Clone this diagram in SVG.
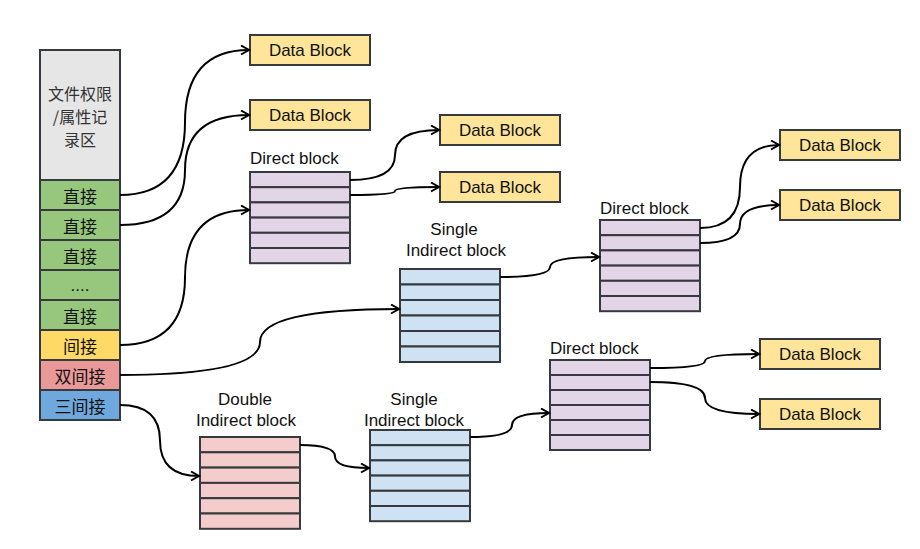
<svg xmlns="http://www.w3.org/2000/svg" width="920" height="549" viewBox="0 0 920 549">
<style>
  .cell{stroke:#36393d;stroke-width:2}
  .gray{fill:#e6e6e6}
  .green{fill:#97c77d}
  .yellow{fill:#ffd966}
  .red{fill:#ea9999}
  .blue{fill:#6fa8dc}
  .purple{fill:#e1d5e7}
  .lblue{fill:#cfe2f3}
  .pink{fill:#f4cccc}
  .data{fill:#ffe599;stroke:#36393d;stroke-width:2}
  .t{font-family:"Liberation Sans","Noto Sans CJK SC",sans-serif;font-size:17px;fill:#111;text-anchor:middle;dominant-baseline:central}
  .cn{font-family:"Noto Sans CJK SC","Liberation Sans",sans-serif;font-size:17px;fill:#111;text-anchor:middle;dominant-baseline:central}
  .gcn{font-family:"Noto Sans CJK SC","Liberation Sans",sans-serif;font-size:16px;fill:#333;text-anchor:middle;dominant-baseline:central}
  .lbl{font-family:"Liberation Sans",sans-serif;font-size:17px;fill:#111;dominant-baseline:central}
  .edge{fill:none;stroke:#000;stroke-width:2;marker-end:url(#arr)}
</style>
<defs>
  <marker id="arr" markerUnits="userSpaceOnUse" markerWidth="12" markerHeight="12" refX="9" refY="5" orient="auto">
    <path d="M1,0.5 L9,5 L1,9.5" fill="none" stroke="#000" stroke-width="2"/>
  </marker>
</defs>
<rect width="920" height="549" fill="#fff"/>

<g id="inode">
  <rect class="cell gray" x="40" y="50" width="80" height="130"/>
  <text class="gcn" x="80" y="93">文件权限</text>
  <text class="gcn" x="80" y="116">/属性记</text>
  <text class="gcn" x="80" y="139">录区</text>
  <rect class="cell green" x="40" y="180" width="80" height="30"/>
  <text class="cn" x="80" y="195">直接</text>
  <rect class="cell green" x="40" y="210" width="80" height="30"/>
  <text class="cn" x="80" y="225">直接</text>
  <rect class="cell green" x="40" y="240" width="80" height="30"/>
  <text class="cn" x="80" y="255">直接</text>
  <rect class="cell green" x="40" y="270" width="80" height="30"/>
  <text class="t" x="80" y="285">....</text>
  <rect class="cell green" x="40" y="300" width="80" height="30"/>
  <text class="cn" x="80" y="315">直接</text>
  <rect class="cell yellow" x="40" y="330" width="80" height="30"/>
  <text class="cn" x="80" y="345">间接</text>
  <rect class="cell red" x="40" y="360" width="80" height="30"/>
  <text class="cn" x="80" y="375">双间接</text>
  <rect class="cell blue" x="40" y="390" width="80" height="30"/>
  <text class="cn" x="80" y="405">三间接</text>
</g>

<g id="data1"><rect class="data" x="250" y="35" width="120" height="30"/><text class="t" x="310" y="50">Data Block</text></g>
<g id="data2"><rect class="data" x="250" y="100" width="120" height="30"/><text class="t" x="310" y="115">Data Block</text></g>
<g id="data3"><rect class="data" x="440" y="115" width="120" height="30"/><text class="t" x="500" y="130">Data Block</text></g>
<g id="data4"><rect class="data" x="440" y="172" width="120" height="30"/><text class="t" x="500" y="187">Data Block</text></g>
<g id="data5"><rect class="data" x="780" y="130" width="120" height="30"/><text class="t" x="840" y="145">Data Block</text></g>
<g id="data6"><rect class="data" x="780" y="190" width="120" height="30"/><text class="t" x="840" y="205">Data Block</text></g>
<g id="data7"><rect class="data" x="760" y="339" width="120" height="30"/><text class="t" x="820" y="354">Data Block</text></g>
<g id="data8"><rect class="data" x="760" y="399" width="120" height="30"/><text class="t" x="820" y="414">Data Block</text></g>

<g id="direct1">
  <text class="lbl" x="250" y="158">Direct block</text>
  <rect class="cell purple" x="250" y="172" width="100" height="15.2"/>
  <rect class="cell purple" x="250" y="187.2" width="100" height="15.2"/>
  <rect class="cell purple" x="250" y="202.4" width="100" height="15.2"/>
  <rect class="cell purple" x="250" y="217.6" width="100" height="15.2"/>
  <rect class="cell purple" x="250" y="232.8" width="100" height="15.2"/>
  <rect class="cell purple" x="250" y="248" width="100" height="15.2"/>
</g>

<g id="single1">
  <text class="t" x="454" y="229">Single</text>
  <text class="t" x="456" y="250">Indirect block</text>
  <rect class="cell lblue" x="400" y="269" width="100" height="15.5"/>
  <rect class="cell lblue" x="400" y="284.5" width="100" height="15.5"/>
  <rect class="cell lblue" x="400" y="300" width="100" height="15.5"/>
  <rect class="cell lblue" x="400" y="315.5" width="100" height="15.5"/>
  <rect class="cell lblue" x="400" y="331" width="100" height="15.5"/>
  <rect class="cell lblue" x="400" y="346.5" width="100" height="15.5"/>
</g>

<g id="direct2">
  <text class="lbl" x="600" y="208">Direct block</text>
  <rect class="cell purple" x="600" y="220" width="100" height="15.2"/>
  <rect class="cell purple" x="600" y="235.2" width="100" height="15.2"/>
  <rect class="cell purple" x="600" y="250.4" width="100" height="15.2"/>
  <rect class="cell purple" x="600" y="265.6" width="100" height="15.2"/>
  <rect class="cell purple" x="600" y="280.8" width="100" height="15.2"/>
  <rect class="cell purple" x="600" y="296" width="100" height="15.2"/>
</g>

<g id="double1">
  <text class="t" x="245" y="399">Double</text>
  <text class="t" x="246" y="420">Indirect block</text>
  <rect class="cell pink" x="200" y="437" width="100" height="15.3"/>
  <rect class="cell pink" x="200" y="452.3" width="100" height="15.3"/>
  <rect class="cell pink" x="200" y="467.6" width="100" height="15.3"/>
  <rect class="cell pink" x="200" y="482.9" width="100" height="15.3"/>
  <rect class="cell pink" x="200" y="498.2" width="100" height="15.3"/>
  <rect class="cell pink" x="200" y="513.5" width="100" height="15.3"/>
</g>

<g id="single2">
  <text class="t" x="414" y="399">Single</text>
  <text class="t" x="414" y="420">Indirect block</text>
  <rect class="cell lblue" x="370" y="430" width="100" height="15.2"/>
  <rect class="cell lblue" x="370" y="445.2" width="100" height="15.2"/>
  <rect class="cell lblue" x="370" y="460.4" width="100" height="15.2"/>
  <rect class="cell lblue" x="370" y="475.6" width="100" height="15.2"/>
  <rect class="cell lblue" x="370" y="490.8" width="100" height="15.2"/>
  <rect class="cell lblue" x="370" y="506" width="100" height="15.2"/>
</g>

<g id="direct3">
  <text class="lbl" x="550" y="348">Direct block</text>
  <rect class="cell purple" x="550" y="360" width="100" height="15"/>
  <rect class="cell purple" x="550" y="375" width="100" height="15"/>
  <rect class="cell purple" x="550" y="390" width="100" height="15"/>
  <rect class="cell purple" x="550" y="405" width="100" height="15"/>
  <rect class="cell purple" x="550" y="420" width="100" height="15"/>
  <rect class="cell purple" x="550" y="435" width="100" height="15"/>
</g>

<g id="connectors">
  <path class="edge" d="M120,195 Q185,195 185,122.5 Q185,50 249,50"/>
  <path class="edge" d="M120,225 Q185,225 185,170 Q185,115 249,115"/>
  <path class="edge" d="M120,345 Q185,345 185,277.5 Q185,210 249,210"/>
  <path class="edge" d="M350,180 Q395,180 395,155 Q395,130 439,130"/>
  <path class="edge" d="M350,195 Q395,195 395,191 Q395,187 439,187"/>
  <path class="edge" d="M120,375 Q260,375 260,342 Q260,309 399,309"/>
  <path class="edge" d="M500,277 Q550,277 550,267 Q550,257 599,257"/>
  <path class="edge" d="M700,228 Q740,228 740,187 Q740,145 779,145"/>
  <path class="edge" d="M700,243 Q740,243 740,224 Q740,205 779,205"/>
  <path class="edge" d="M120,405 Q160,405 160,440.5 Q160,476 199,476"/>
  <path class="edge" d="M300,445 Q335,445 335,456.5 Q335,468 369,468"/>
  <path class="edge" d="M470,437 Q512,437 512,425 Q512,413 549,413"/>
  <path class="edge" d="M650,368 Q705,368 705,361 Q705,354 759,354"/>
  <path class="edge" d="M650,382 Q705,382 705,398 Q705,414 759,414"/>
</g>
</svg>
